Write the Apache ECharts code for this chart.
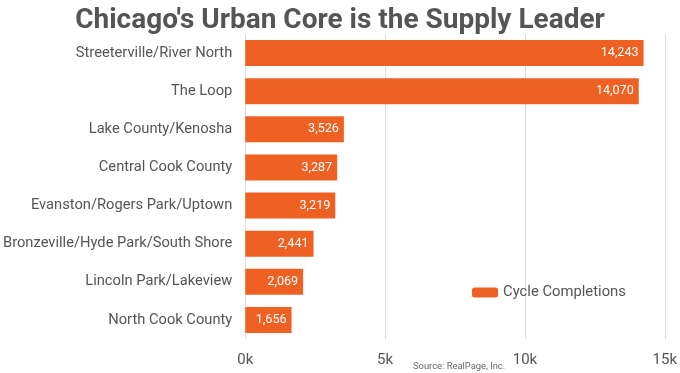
<!DOCTYPE html>
<html><head><meta charset="utf-8">
<script src="https://cdn.jsdelivr.net/npm/echarts@6/dist/echarts.min.js"></script>
<style>html,body{margin:0;padding:0;background:#fff}#c{width:680px;height:373px}</style>
</head><body><div id="c"></div>
<script>
const categories = ["Streeterville/River North","The Loop","Lake County/Kenosha","Central Cook County","Evanston/Rogers Park/Uptown","Bronzeville/Hyde Park/South Shore","Lincoln Park/Lakeview","North Cook County"];
const completions = [14243,14070,3526,3287,3219,2441,2069,1656];
const seriesName = "Cycle Completions";
const titleText = "Chicago's Urban Core is the Supply Leader";
const sourceText = "Source: RealPage, Inc.";

const chart = echarts.init(document.getElementById('c'), null, {renderer:'canvas'});
chart.setOption({
  animation:false,
  textStyle:{fontFamily:'Roboto'},
  title:{text:titleText,left:'center',top:2,textStyle:{fontFamily:'Roboto',fontWeight:'bold',fontSize:28,color:'#555555'}},
  grid:{left:245,right:13,top:34,bottom:34,containLabel:false},
  legend:{data:[seriesName],left:467,top:280,itemWidth:26,itemHeight:10,itemGap:4,
    textStyle:{fontFamily:'Roboto',fontSize:14.8,color:'#555555'}},
  graphic:[{type:'text',left:413,top:362,style:{text:sourceText,fontFamily:'Roboto',fontSize:9.4,fill:'#666666'}}],
  xAxis:{type:'value',min:0,max:15000,interval:5000,
    axisLine:{show:false},axisTick:{show:false},
    splitLine:{lineStyle:{color:'#dddddd',width:1}},
    axisLabel:{formatter:v=>(v/1000)+'k',fontFamily:'Roboto',fontSize:15,color:'#555555',margin:14}},
  yAxis:{type:'category',data:categories,inverse:true,
    axisLine:{show:false},axisTick:{show:false},
    axisLabel:{fontFamily:'Roboto',fontSize:14.7,color:'#555555',margin:13}},
  series:[{name:seriesName,type:'bar',data:completions,barCategoryGap:'32%',
    itemStyle:{color:'#EE6122'},
    label:{show:true,position:'insideRight',distance:5,color:'#ffffff',fontFamily:'Roboto',fontSize:12.6,
      formatter:p=>p.value.toLocaleString('en-US')}}]
});
</script></body></html>
